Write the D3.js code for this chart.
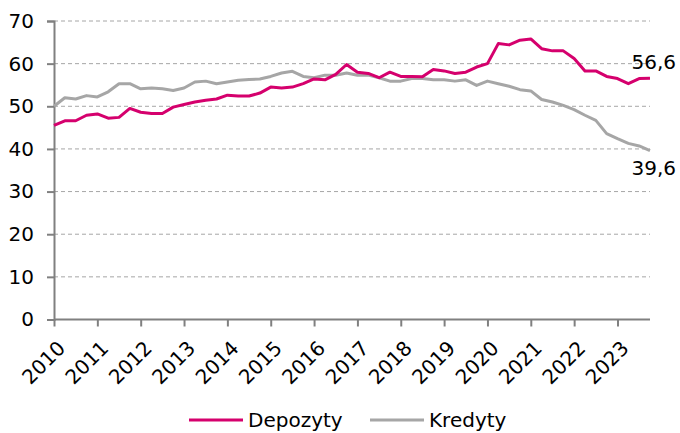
<!DOCTYPE html>
<html><head><meta charset="utf-8">
<script src="https://cdn.jsdelivr.net/npm/d3@7"></script>
<style>body{margin:0;background:#fff}svg{display:block;font-family:"DejaVu Sans",sans-serif}</style>
</head><body><svg id="c" width="680" height="433"></svg>
<script>
const years = ["2010","2011","2012","2013","2014","2015","2016","2017","2018","2019","2020","2021","2022","2023"];
const yTicks = [0,10,20,30,40,50,60,70];
const depozyty = [45.5,46.6,46.6,47.9,48.2,47.2,47.4,49.5,48.6,48.3,48.3,49.8,50.4,51.0,51.4,51.7,52.6,52.4,52.4,53.1,54.5,54.3,54.5,55.3,56.4,56.2,57.5,
  59.8,58.0,57.7,56.7,58.0,57.0,57.0,56.9,58.6,58.3,57.7,58.0,59.2,60.0,64.7,64.4,65.5,65.8,63.5,63.0,63.0,61.2,58.3,58.3,57.0,56.5,55.3,56.5,56.6];
const kredyty = [50.0,52.0,51.7,52.5,52.2,53.4,55.3,55.3,54.1,54.3,54.1,53.7,54.3,55.7,55.9,55.3,55.7,56.1,56.3,56.4,57.0,57.8,58.2,57.0,56.7,57.3,57.3,
  57.8,57.3,57.3,56.7,55.9,55.9,56.5,56.5,56.2,56.2,55.9,56.2,54.9,55.9,55.3,54.7,53.9,53.6,51.6,51.0,50.2,49.2,47.9,46.7,43.6,42.4,41.3,40.7,39.6];
const seriesNames = ["Depozyty","Kredyty"];
const colors = ["#D5006D","#A6A6A6"];

const svg = d3.select("#c");
const L = 54, R = 650, T = 21, B = 319.5;
const x = d3.scaleLinear().domain([0, depozyty.length-1]).range([L, R]);
const y = d3.scaleLinear().domain([0,70]).range([B, T]);

// grid
svg.append("g").selectAll("line").data(yTicks.filter(d=>d>0)).join("line")
  .attr("x1", L).attr("x2", R).attr("y1", d=>y(d)).attr("y2", d=>y(d))
  .attr("stroke", "#A6A6A6").attr("stroke-width", 1).attr("stroke-dasharray", "4,3");

// y axis
const ya = svg.append("g").attr("transform", `translate(${L},0)`)
  .call(d3.axisLeft(y).tickValues(yTicks).tickSize(7).tickPadding(13).tickFormat(d3.format("d")));
ya.select(".domain").attr("stroke", "#808080").attr("stroke-width", 2);
ya.selectAll(".tick line").attr("stroke", "#808080").attr("stroke-width", 2);
ya.selectAll("text").attr("font-size", 20).attr("fill", "#000").attr("font-family", "DejaVu Sans");

// x axis
const xa = svg.append("g").attr("transform", `translate(0,${B})`)
  .call(d3.axisBottom(x).tickValues(years.map((d,i)=>i*4)).tickSize(7).tickFormat((d,i)=>years[i]));
xa.select(".domain").attr("stroke", "#808080").attr("stroke-width", 2).attr("d", `M${L},0H${R}`);
xa.selectAll(".tick line").attr("stroke", "#808080").attr("stroke-width", 2);
xa.selectAll("text").attr("font-size", 20).attr("fill", "#000").attr("font-family", "DejaVu Sans")
  .attr("text-anchor", "end").attr("dy", null).attr("y", 0)
  .attr("transform", "translate(12,30) rotate(-45)");

// lines
const line = d3.line().x((d,i)=>x(i)).y(d=>y(d));
[kredyty, depozyty].forEach((s, k) => {
  svg.append("path").datum(s).attr("d", line).attr("fill", "none")
    .attr("stroke", colors[1-k]).attr("stroke-width", 3).attr("stroke-linejoin", "round");
});

// end labels
svg.append("text").attr("x", 676).attr("y", y(depozyty[depozyty.length-1]) - 9)
  .attr("text-anchor", "end").attr("font-size", 20).text(d3.format(".1f")(depozyty[depozyty.length-1]).replace(".", ","));
svg.append("text").attr("x", 676).attr("y", y(kredyty[kredyty.length-1]) + 24)
  .attr("text-anchor", "end").attr("font-size", 20).text(d3.format(".1f")(kredyty[kredyty.length-1]).replace(".", ","));

// legend
const lg = [{x:189, n:seriesNames[0], c:colors[0]}, {x:370, n:seriesNames[1], c:colors[1]}];
lg.forEach(d => {
  svg.append("line").attr("x1", d.x).attr("x2", d.x+54).attr("y1", 420).attr("y2", 420)
    .attr("stroke", d.c).attr("stroke-width", 3);
  svg.append("text").attr("x", d.x+59).attr("y", 427).attr("font-size", 20).text(d.n);
});
</script></body></html>
